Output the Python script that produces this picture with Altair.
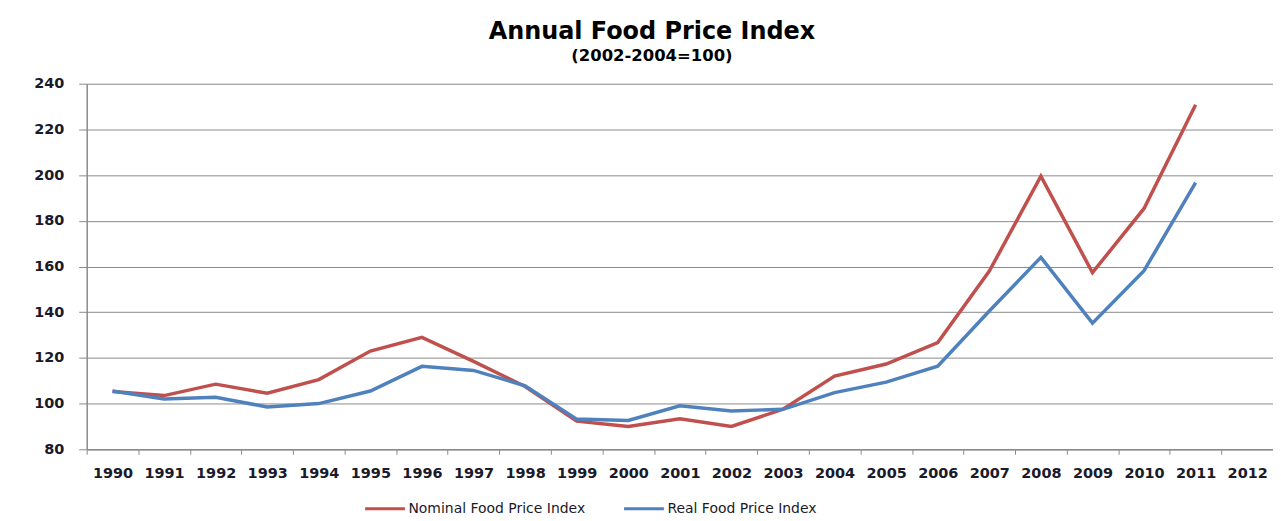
import altair as alt
import pandas as pd

years = [str(y) for y in range(1990, 2013)]
data_years = [str(y) for y in range(1990, 2012)]
nominal = [105.3, 103.5, 108.5, 104.5, 110.5, 123, 129, 118.5, 107.5, 92.3, 90, 93.3,
           90, 97.5, 112, 117.3, 126.7, 158, 199.5, 157.3, 185.4, 230.8]
real = [105.5, 102, 102.8, 98.5, 100, 105.5, 116.3, 114.5, 107.8, 93.2, 92.6, 99,
        96.8, 97.5, 104.8, 109.4, 116.4, 140.5, 164, 135.2, 158.2, 196.7]
series_names = ["Nominal Food Price Index", "Real Food Price Index"]
series_colors = ["#C0504D", "#4F81BD"]

rows = []
for name, vals in zip(series_names, [nominal, real]):
    for yr, v in zip(data_years, vals):
        rows.append({"year": yr, "value": v, "series": name})
df = pd.DataFrame(rows)

FONT = "DejaVu Sans"

chart = alt.Chart(df).mark_line(strokeWidth=3.5).encode(
    x=alt.X("year:O", scale=alt.Scale(domain=years, paddingInner=0, paddingOuter=0),
            axis=alt.Axis(title=None, labelAngle=0, tickBand="extent", grid=False,
                          domainColor="#8a8a8a", domainWidth=1.5, tickColor="#8a8a8a",
                          tickSize=5, labelPadding=12, labelFontSize=14.5, labelFontWeight="bold",
                          labelColor="#1a1a2a", labelFont=FONT)),
    y=alt.Y("value:Q", scale=alt.Scale(domain=[80, 240], nice=False, zero=False),
            axis=alt.Axis(title=None, values=list(range(80, 241, 20)), grid=True,
                          gridColor="#8a8a8a", gridWidth=1, domainColor="#8a8a8a",
                          domainWidth=1.5, tickColor="#8a8a8a", tickSize=8,
                          labelPadding=15, labelFontSize=14.5, labelFontWeight="bold",
                          labelColor="#1a1a2a", labelFont=FONT)),
    color=alt.Color("series:N", scale=alt.Scale(domain=series_names, range=series_colors),
                    legend=alt.Legend(title=None, orient="none", direction="horizontal",
                                      legendX=278, legendY=405, symbolType="stroke",
                                      symbolSize=1600, symbolStrokeWidth=3,
                                      labelFontSize=14, labelFont=FONT, labelColor="#1a1a2a",
                                      labelOffset=2, columnPadding=32, labelLimit=400)),
).properties(
    width=1191, height=367,
    title=alt.TitleParams(text="Annual Food Price Index", subtitle="(2002-2004=100)",
                          font=FONT, fontSize=24, fontWeight="bold", color="#000000",
                          subtitleFont=FONT, subtitleFontSize=16.5, subtitleFontWeight="bold",
                          subtitleColor="#000000", anchor="middle", dx=-28, offset=11,
                          subtitlePadding=4),
    autosize=alt.AutoSizeParams(type="none"),
    padding={"left": 79, "top": 75, "right": 0, "bottom": 70},
).configure_view(stroke=None)

chart.save("out.html", embed_options={"renderer": "svg", "actions": False})
